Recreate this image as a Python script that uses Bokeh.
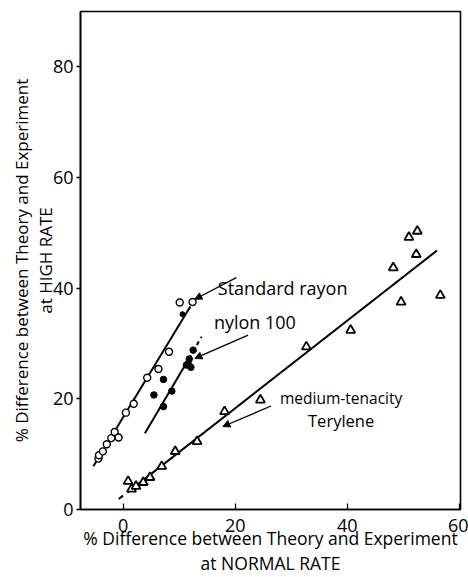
from bokeh.plotting import figure
from bokeh.models import Range1d, Label, Arrow, NormalHead, FixedTicker
from bokeh.embed import file_html
from bokeh.resources import INLINE

# Standard rayon (open circles)
rayon_x = [-4.4, -4.3, -3.6, -2.9, -2.1, -1.5, -0.8, 0.5, 1.9, 4.3, 6.3, 8.2, 10.1, 12.4]
rayon_y = [9.2, 9.8, 10.5, 11.8, 12.9, 14.0, 13.0, 17.5, 19.1, 23.8, 25.4, 28.5, 37.4, 37.5]
rayon_dot_x = [10.6]
rayon_dot_y = [35.3]
# nylon 100 (filled circles)
nylon_x = [12.5, 11.8, 11.3, 12.1, 11.6, 7.2, 8.7, 5.5, 7.2]
nylon_y = [28.8, 27.2, 26.1, 25.7, 26.4, 23.5, 21.4, 20.7, 18.6]
# medium-tenacity Terylene (open triangles)
tery_x = [0.9, 1.5, 2.3, 3.6, 4.8, 6.9, 9.3, 13.2, 18.1, 24.5, 32.7, 40.6, 48.2, 49.6, 51.0, 52.5, 52.3, 56.6]
tery_y = [5.1, 3.7, 4.2, 4.9, 5.8, 7.8, 10.5, 12.3, 17.7, 19.8, 29.4, 32.4, 43.7, 37.5, 49.2, 50.3, 46.1, 38.7]

# fitted lines (end points)
rayon_line_x = [-5.3, 12.0]
rayon_line_y = [7.8, 36.7]
nylon_line_x = [3.9, 11.0]
nylon_line_y = [13.8, 26.0]
nylon_dash_x = [11.0, 14.0]
nylon_dash_y = [26.0, 31.2]
tery_dash_x = [-0.8, 0.0]
tery_dash_y = [1.9, 2.5]
tery_line_x = [0.8, 56.0]
tery_line_y = [3.1, 46.8]

x_ticks = [0, 20, 40, 60]
y_ticks = [0, 20, 40, 60, 80]

x_title = "% Difference between Theory and Experiment\nat NORMAL RATE"
y_title = "% Difference between Theory and Experiment\nat HIGH RATE"

FONT = "Open Sans"

p = figure(width=468, height=577, output_backend="svg", toolbar_location=None,
           x_range=Range1d(-7.6, 60.2), y_range=Range1d(0, 90),
           min_border_left=80, min_border_right=8, min_border_top=11, min_border_bottom=67)
p.background_fill_color = "white"
p.border_fill_color = "white"
p.xgrid.visible = False
p.ygrid.visible = False
p.outline_line_color = "black"
p.outline_line_width = 1.6

p.xaxis.ticker = FixedTicker(ticks=x_ticks)
p.yaxis.ticker = FixedTicker(ticks=y_ticks)
for ax in (p.xaxis, p.yaxis):
    ax.axis_line_color = "black"
    ax.axis_line_width = 1.6
    ax.major_tick_line_color = "black"
    ax.major_tick_line_width = 1.3
    ax.minor_tick_line_color = None
    ax.major_label_text_font = FONT
    ax.major_label_text_font_size = "18px"
    ax.major_label_text_color = "black"
    ax.axis_label_text_font = FONT
    ax.axis_label_text_font_style = "normal"
    ax.axis_label_text_color = "black"
    ax.axis_label_text_line_height = 1.05
p.xaxis.axis_label_text_font_size = "17.5px"
p.yaxis.axis_label_text_font_size = "17px"
p.xaxis.major_tick_in = 6
p.xaxis.major_tick_out = 0
p.yaxis.major_tick_in = 0
p.yaxis.major_tick_out = 4
p.xaxis.major_label_standoff = 9
p.yaxis.major_label_standoff = 3
p.xaxis.axis_label = x_title
p.yaxis.axis_label = y_title
p.xaxis.axis_label_standoff = -9
p.yaxis.axis_label_standoff = -7

# lines
p.line(rayon_line_x, rayon_line_y, line_color="black", line_width=2)
p.line(nylon_line_x, nylon_line_y, line_color="black", line_width=2)
p.line(nylon_dash_x, nylon_dash_y, line_color="black", line_width=2, line_dash="4 4")
p.line(tery_dash_x, tery_dash_y, line_color="black", line_width=2)
p.line(tery_line_x, tery_line_y, line_color="black", line_width=2)

# points
p.scatter(rayon_x, rayon_y, marker="circle", size=7, fill_color="white",
          line_color="black", line_width=1.4)
p.scatter(rayon_dot_x, rayon_dot_y, marker="circle", size=5, fill_color="black",
          line_color="black")
p.scatter(nylon_x, nylon_y, marker="circle", size=6.5, fill_color="black",
          line_color="black")
p.scatter(tery_x, tery_y, marker="triangle", size=9, fill_color="white",
          line_color="black", line_width=1.8)

# arrows
for (x0, y0, x1, y1) in [(20.2, 41.9, 12.8, 38.0), (22.3, 31.5, 12.8, 27.3), (26.4, 18.7, 17.8, 15.0)]:
    p.add_layout(Arrow(end=NormalHead(size=7, fill_color="black", line_color="black"),
                       x_start=x0, y_start=y0, x_end=x1, y_end=y1,
                       line_color="black", line_width=1.3))

# annotations
p.add_layout(Label(x=16.9, y=40.0, text="Standard rayon", text_font=FONT,
                   text_font_size="18px", text_baseline="middle", text_align="left", text_color="black"))
p.add_layout(Label(x=16.2, y=33.9, text="nylon 100", text_font=FONT,
                   text_font_size="18px", text_baseline="middle", text_align="left", text_color="black"))
p.add_layout(Label(x=38.9, y=20.2, text="medium-tenacity", text_font=FONT,
                   text_font_size="15.5px", text_baseline="middle", text_align="center", text_color="black"))
p.add_layout(Label(x=38.9, y=16.0, text="Terylene", text_font=FONT,
                   text_font_size="16.5px", text_baseline="middle", text_align="center", text_color="black"))

open("out.html", "w").write(file_html(p, INLINE))
